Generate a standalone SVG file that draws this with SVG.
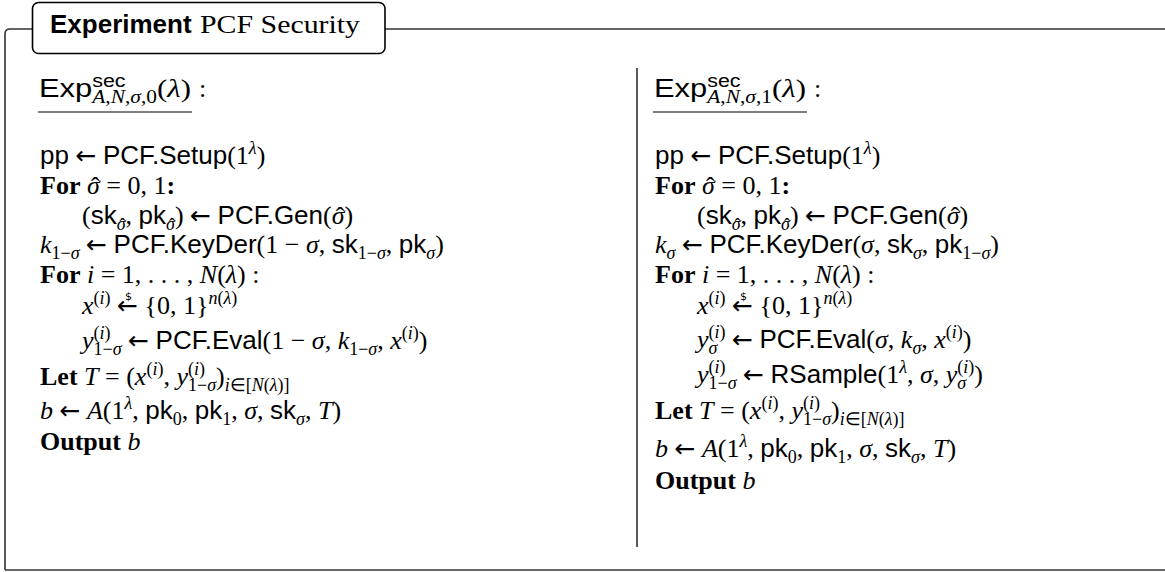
<svg xmlns="http://www.w3.org/2000/svg" width="1165" height="572" viewBox="0 0 1165 572">
<style>
.t{font-family:"Liberation Serif",serif;font-size:26px;fill:#000}
.s{font-family:"Liberation Sans",sans-serif}
.i{font-style:italic}
.b{font-weight:bold}
.a{font-family:"DejaVu Sans",sans-serif;font-size:25px}
.sp{font-size:18px;baseline-shift:10px}
.sb{font-size:18px;baseline-shift:-6px}
.h{baseline-shift:-1px}
.hs{font-size:18px;baseline-shift:-7px}
.dl{font-family:"DejaVu Sans",sans-serif;font-size:11px;baseline-shift:14px}
.fr{fill:none;stroke:#333;stroke-width:1.6}
.ul{stroke:#000;stroke-width:1.2}
</style>
<rect width="1165" height="572" fill="#fff"/>
<g id="frame">
<path class="fr" d="M5,570 V34 Q5,29 10,29 H32 M385,29 H1165 M5,570 H1165"/>
<line x1="637" y1="68" x2="637" y2="547" stroke="#000" stroke-width="1.3"/>
</g>
<g id="title">
<rect x="32.5" y="2.5" width="352.5" height="51" rx="6" fill="#fff" stroke="#000" stroke-width="1.6"/>
<text x="50" y="33" style="font-family:'Liberation Sans',sans-serif;font-weight:bold;font-size:26px">Experiment</text>
<text x="200" y="33" textLength="160" lengthAdjust="spacingAndGlyphs" style="font-family:'Liberation Serif',serif;font-size:26px">PCF Security</text>
</g>
<g id="left">
<text class="t" x="39" y="97" textLength="152" lengthAdjust="spacingAndGlyphs"><tspan class="s">Exp</tspan><tspan class="s sp">sec</tspan><tspan class="sb" dx="-28"><tspan class="i">A</tspan>,<tspan class="i">N</tspan>,<tspan class="i">σ</tspan>,0</tspan>(<tspan class="i">λ</tspan>)</text>
<text class="t" x="199" y="97">:</text>
<line class="ul" x1="38" y1="112" x2="192" y2="112"/>
<text class="t" x="40" y="164"><tspan class="s">pp</tspan> <tspan class="a">←</tspan> <tspan class="s">PCF.Setup</tspan>(1<tspan class="sp i">λ</tspan>)</text>
<text class="t" x="40" y="194"><tspan class="b">For</tspan> <tspan class="i">σ</tspan><tspan class="h" dx="-8.8">ˆ</tspan><tspan dx="0.2"> = 0, 1</tspan><tspan class="b">:</tspan></text>
<text class="t" x="82" y="224">(<tspan class="s">sk</tspan><tspan class="sb i">σ</tspan><tspan class="hs" dx="-6">ˆ</tspan>, <tspan class="s">pk</tspan><tspan class="sb i">σ</tspan><tspan class="hs" dx="-6">ˆ</tspan>) <tspan class="a">←</tspan> <tspan class="s">PCF.Gen</tspan>(<tspan class="i">σ</tspan><tspan class="h" dx="-8.8">ˆ</tspan><tspan dx="0.2">)</tspan></text>
<text class="t" x="40" y="253"><tspan class="i">k</tspan><tspan class="sb">1−<tspan class="i">σ</tspan></tspan> <tspan class="a">←</tspan> <tspan class="s">PCF.KeyDer</tspan>(1 − <tspan class="i">σ</tspan>, <tspan class="s">sk</tspan><tspan class="sb">1−<tspan class="i">σ</tspan></tspan>, <tspan class="s">pk</tspan><tspan class="sb i">σ</tspan>)</text>
<text class="t" x="40" y="283"><tspan class="b">For</tspan> <tspan class="i">i</tspan> = 1, . . . , <tspan class="i">N</tspan>(<tspan class="i">λ</tspan>) :</text>
<text class="t" x="82" y="314"><tspan class="i">x</tspan><tspan class="sp">(<tspan class="i">i</tspan>)</tspan> <tspan class="a">←</tspan><tspan class="dl" dx="-13">$</tspan><tspan dx="6"> {0, 1}</tspan><tspan class="sp"><tspan class="i">n</tspan>(<tspan class="i">λ</tspan>)</tspan></text>
<text class="t" x="82" y="349"><tspan class="i">y</tspan><tspan class="sp">(<tspan class="i">i</tspan>)</tspan><tspan class="sb" dx="-17">1−<tspan class="i">σ</tspan></tspan> <tspan class="a">←</tspan> <tspan class="s">PCF.Eval</tspan>(1 − <tspan class="i">σ</tspan>, <tspan class="i">k</tspan><tspan class="sb">1−<tspan class="i">σ</tspan></tspan>, <tspan class="i">x</tspan><tspan class="sp">(<tspan class="i">i</tspan>)</tspan>)</text>
<text class="t" x="40" y="385"><tspan class="b">Let</tspan> <tspan class="i">T</tspan> = (<tspan class="i">x</tspan><tspan class="sp">(<tspan class="i">i</tspan>)</tspan>, <tspan class="i">y</tspan><tspan class="sp">(<tspan class="i">i</tspan>)</tspan><tspan class="sb" dx="-17">1−<tspan class="i">σ</tspan></tspan>)<tspan class="sb"><tspan class="i">i</tspan>∈[<tspan class="i">N</tspan>(<tspan class="i">λ</tspan>)]</tspan></text>
<text class="t" x="40" y="419"><tspan class="i">b</tspan> <tspan class="a">←</tspan> <tspan class="i">A</tspan>(1<tspan class="sp i">λ</tspan>, <tspan class="s">pk</tspan><tspan class="sb">0</tspan>, <tspan class="s">pk</tspan><tspan class="sb">1</tspan>, <tspan class="i">σ</tspan>, <tspan class="s">sk</tspan><tspan class="sb i">σ</tspan>, <tspan class="i">T</tspan>)</text>
<text class="t" x="40" y="450"><tspan class="b">Output</tspan> <tspan class="i">b</tspan></text>
</g>
<g id="right">
<text class="t" x="654" y="97" textLength="152" lengthAdjust="spacingAndGlyphs"><tspan class="s">Exp</tspan><tspan class="s sp">sec</tspan><tspan class="sb" dx="-28"><tspan class="i">A</tspan>,<tspan class="i">N</tspan>,<tspan class="i">σ</tspan>,1</tspan>(<tspan class="i">λ</tspan>)</text>
<text class="t" x="814" y="97">:</text>
<line class="ul" x1="653" y1="112" x2="807" y2="112"/>
<text class="t" x="655" y="164"><tspan class="s">pp</tspan> <tspan class="a">←</tspan> <tspan class="s">PCF.Setup</tspan>(1<tspan class="sp i">λ</tspan>)</text>
<text class="t" x="655" y="194"><tspan class="b">For</tspan> <tspan class="i">σ</tspan><tspan class="h" dx="-8.8">ˆ</tspan><tspan dx="0.2"> = 0, 1</tspan><tspan class="b">:</tspan></text>
<text class="t" x="697" y="224">(<tspan class="s">sk</tspan><tspan class="sb i">σ</tspan><tspan class="hs" dx="-6">ˆ</tspan>, <tspan class="s">pk</tspan><tspan class="sb i">σ</tspan><tspan class="hs" dx="-6">ˆ</tspan>) <tspan class="a">←</tspan> <tspan class="s">PCF.Gen</tspan>(<tspan class="i">σ</tspan><tspan class="h" dx="-8.8">ˆ</tspan><tspan dx="0.2">)</tspan></text>
<text class="t" x="655" y="253"><tspan class="i">k</tspan><tspan class="sb i">σ</tspan> <tspan class="a">←</tspan> <tspan class="s">PCF.KeyDer</tspan>(<tspan class="i">σ</tspan>, <tspan class="s">sk</tspan><tspan class="sb i">σ</tspan>, <tspan class="s">pk</tspan><tspan class="sb">1−<tspan class="i">σ</tspan></tspan>)</text>
<text class="t" x="655" y="283"><tspan class="b">For</tspan> <tspan class="i">i</tspan> = 1, . . . , <tspan class="i">N</tspan>(<tspan class="i">λ</tspan>) :</text>
<text class="t" x="697" y="314"><tspan class="i">x</tspan><tspan class="sp">(<tspan class="i">i</tspan>)</tspan> <tspan class="a">←</tspan><tspan class="dl" dx="-13">$</tspan><tspan dx="6"> {0, 1}</tspan><tspan class="sp"><tspan class="i">n</tspan>(<tspan class="i">λ</tspan>)</tspan></text>
<text class="t" x="697" y="348"><tspan class="i">y</tspan><tspan class="sp">(<tspan class="i">i</tspan>)</tspan><tspan class="sb i" dx="-17">σ</tspan><tspan dx="8"> </tspan><tspan class="a">←</tspan> <tspan class="s">PCF.Eval</tspan>(<tspan class="i">σ</tspan>, <tspan class="i">k</tspan><tspan class="sb i">σ</tspan>, <tspan class="i">x</tspan><tspan class="sp">(<tspan class="i">i</tspan>)</tspan>)</text>
<text class="t" x="697" y="383"><tspan class="i">y</tspan><tspan class="sp">(<tspan class="i">i</tspan>)</tspan><tspan class="sb" dx="-17">1−<tspan class="i">σ</tspan></tspan> <tspan class="a">←</tspan> <tspan class="s">RSample</tspan>(1<tspan class="sp i">λ</tspan>, <tspan class="i">σ</tspan>, <tspan class="i">y</tspan><tspan class="sp">(<tspan class="i">i</tspan>)</tspan><tspan class="sb i" dx="-17">σ</tspan><tspan dx="8">)</tspan></text>
<text class="t" x="655" y="419"><tspan class="b">Let</tspan> <tspan class="i">T</tspan> = (<tspan class="i">x</tspan><tspan class="sp">(<tspan class="i">i</tspan>)</tspan>, <tspan class="i">y</tspan><tspan class="sp">(<tspan class="i">i</tspan>)</tspan><tspan class="sb" dx="-17">1−<tspan class="i">σ</tspan></tspan>)<tspan class="sb"><tspan class="i">i</tspan>∈[<tspan class="i">N</tspan>(<tspan class="i">λ</tspan>)]</tspan></text>
<text class="t" x="655" y="457"><tspan class="i">b</tspan> <tspan class="a">←</tspan> <tspan class="i">A</tspan>(1<tspan class="sp i">λ</tspan>, <tspan class="s">pk</tspan><tspan class="sb">0</tspan>, <tspan class="s">pk</tspan><tspan class="sb">1</tspan>, <tspan class="i">σ</tspan>, <tspan class="s">sk</tspan><tspan class="sb i">σ</tspan>, <tspan class="i">T</tspan>)</text>
<text class="t" x="655" y="489"><tspan class="b">Output</tspan> <tspan class="i">b</tspan></text>
</g>
</svg>
